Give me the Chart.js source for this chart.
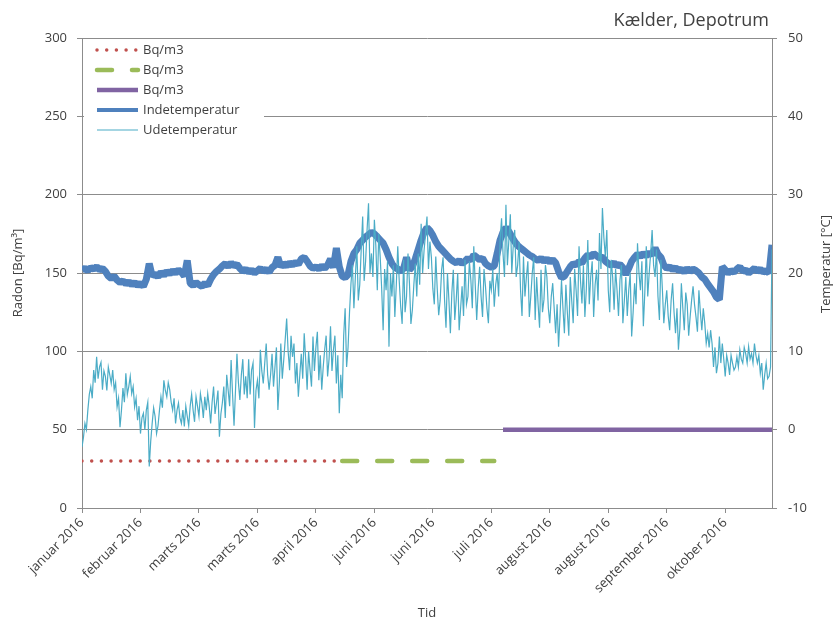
<!DOCTYPE html>
<html>
<head>
<meta charset="utf-8">
<script src="https://cdn.jsdelivr.net/npm/chart.js@4"></script>
<style>
  body { margin: 0; background: #fff; }
  canvas { display: block; }
</style>
</head>
<body>
<canvas id="chart" width="834" height="624"></canvas>
<script>
const TICK_LABELS = [
  'januar 2016', 'februar 2016', 'marts 2016', 'marts 2016', 'april 2016', 'juni 2016',
  'juni 2016', 'juli 2016', 'august 2016', 'august 2016', 'september 2016', 'oktober 2016'
];
const TICK_STEP = 20;
const LAST_INDEX = 236;

// radon measurements, [index, Bq/m3]
const radonDotted = [[0, 30], [88, 30]];
const radonDashed = [[89, 30], [141, 30]];
const radonSolid = [[144, 50], [236, 50]];

// indoor temperature, °C, one value per index
const indeTemp = [
  20.4, 20.6, 20.3, 20.7, 20.5, 20.8, 20.4, 20.6, 20.2, 19.6,
  19.3, 19.6, 19.1, 18.8, 19.0, 18.6, 18.9, 18.5, 18.8, 18.4,
  18.7, 18.3, 19.2, 21.2, 19.6, 19.9, 19.5, 20.1, 19.7, 20.2,
  19.9, 20.3, 20.0, 20.4, 20.1, 19.6, 21.6, 18.7, 18.4, 18.8,
  18.5, 18.3, 18.7, 18.4, 19.2, 19.8, 20.2, 20.5, 20.9, 21.2,
  20.8, 21.3, 20.9, 21.1, 20.6, 20.2, 20.5, 20.1, 20.4, 20.0,
  20.3, 20.6, 20.2, 20.5, 20.1, 20.7, 21.0, 22.0, 20.8, 21.2,
  20.9, 21.3, 21.0, 21.4, 21.1, 21.8, 22.0, 21.5, 20.9, 20.6,
  20.8, 20.5, 20.9, 20.6, 21.0, 21.8, 20.7, 23.2, 20.8, 19.6,
  19.4, 19.8, 21.5, 22.5, 23.0, 23.8, 24.2, 24.6, 24.9, 25.2,
  25.0, 24.6, 24.2, 23.8, 23.0, 22.0, 21.2, 20.7, 20.5, 20.2,
  20.6, 22.0, 20.4, 20.8, 21.8, 23.0, 24.2, 25.2, 25.8, 25.4,
  24.8, 24.0, 23.4, 23.0, 22.6, 22.2, 21.8, 21.5, 21.3, 21.6,
  21.2, 21.5, 21.9, 21.6, 22.3, 22.0, 21.7, 21.9, 21.2, 20.9,
  20.7, 20.9, 22.5, 24.2, 25.2, 25.8, 25.3, 24.6, 24.0, 23.5,
  23.2, 22.9, 22.6, 22.3, 22.1, 21.8, 21.6, 21.9, 21.5, 21.8,
  21.4, 21.7, 21.3, 20.2, 19.4, 19.6, 20.2, 20.8, 21.2, 21.0,
  21.5, 21.3, 21.9, 22.3, 22.0, 22.5, 22.2, 21.9, 22.1, 21.5,
  21.2, 21.0, 21.3, 20.9, 21.1, 20.7, 19.8, 20.6, 21.5, 22.0,
  22.4, 22.1, 22.5, 22.2, 22.6, 22.3, 23.2, 22.4, 22.0, 21.0,
  20.6, 20.8, 20.4, 20.7, 20.3, 20.5, 20.1, 20.6, 20.2, 20.5,
  20.3, 20.0, 19.5, 19.2, 18.6, 18.1, 17.6, 16.9, 16.6, 20.8,
  20.4, 20.0, 20.3, 20.1, 20.5, 20.8, 20.2, 20.4, 20.0, 20.3,
  20.6, 20.2, 20.5, 20.1, 20.3, 20.0, 23.6
];

// outdoor temperature, °C, two values per index (index step 0.5)
const UDE_STEP = 0.5;
const udeTemp = [
  -2.2, -1.0, 0.8, 0.0, 2.5, 4.5, 5.5, 4.0, 7.6, 6.0,
  9.3, 6.5, 8.0, 8.6, 5.1, 7.5, 6.8, 5.0, 8.0, 7.0,
  5.9, 7.6, 5.1, 6.0, 2.9, 4.0, 0.3, 2.5, 5.3, 3.5,
  7.2, 4.5, 5.5, 6.8, 4.6, 5.5, 2.9, 4.0, 1.2, 3.0,
  -0.5, 1.5, 2.1, 0.0, 2.5, 3.5, -4.7, -1.5, 0.8, 2.8,
  1.7, -0.5, 0.5, 2.5, 4.2, 2.8, 6.3, 5.0, 4.2, 6.0,
  5.1, 3.5, 2.5, 4.0, 0.8, 2.5, 3.4, 1.5, 0.8, 2.5,
  0.4, 3.0, 1.7, 0.5, 3.0, 4.5, 2.5, 1.0, 4.2, 3.0,
  1.7, 4.6, 3.4, 1.5, 4.2, 2.5, 4.6, 3.0, 0.8, 3.5,
  5.5, 2.0, 3.4, 5.0, -0.9, 2.0, 3.4, 5.5, 1.5, 7.0,
  5.0, 3.0, 8.9, 4.5, 0.5, 5.0, 9.7, 6.0, 3.8, 7.0,
  9.0, 4.5, 6.8, 4.0, 9.0, 4.5, 7.6, 8.5, 0.2, 5.0,
  6.3, 4.0, 10.2, 7.5, 5.9, 8.5, 11.0, 7.0, 5.1, 7.0,
  9.7, 5.5, 8.0, 10.5, 2.5, 6.0, 11.0, 6.5, 8.9, 11.5,
  14.2, 10.0, 7.6, 12.0, 9.3, 11.0, 5.9, 8.5, 4.2, 7.0,
  9.7, 6.5, 12.3, 9.0, 5.1, 10.0, 7.6, 5.5, 11.9, 7.5,
  10.5, 12.5, 6.3, 9.5, 5.1, 8.0, 10.2, 12.0, 6.8, 9.0,
  13.2, 7.5, 10.2, 12.0, 5.9, 9.5, 2.1, 7.0, 4.0, 12.0,
  15.5, 8.0, 10.5, 15.0, 18.7, 21.0, 15.5, 19.5, 23.4, 16.5,
  18.5, 23.0, 27.2, 19.0, 21.5, 25.5, 28.9, 20.0, 22.5, 19.5,
  26.8, 23.5, 17.8, 25.0, 22.0, 18.0, 12.7, 20.5, 17.8, 21.5,
  10.6, 20.0, 17.0, 21.0, 14.4, 18.5, 23.4, 19.0, 15.7, 13.5,
  21.7, 15.0, 17.0, 22.5, 18.7, 13.5, 15.3, 18.5, 21.2, 17.0,
  22.5, 18.5, 26.3, 20.0, 22.9, 25.0, 27.2, 20.5, 24.0, 22.0,
  18.0, 16.0, 22.1, 18.0, 14.6, 16.5, 20.4, 22.0, 16.6, 13.0,
  20.0, 16.5, 12.3, 17.5, 20.4, 14.0, 16.6, 20.0, 12.7, 15.5,
  18.3, 14.5, 21.7, 16.0, 17.0, 21.5, 19.1, 15.5, 23.4, 18.5,
  14.0, 18.0, 20.8, 17.0, 14.4, 20.5, 18.3, 15.5, 13.6, 19.0,
  17.8, 20.5, 15.7, 18.5, 20.0, 17.0, 24.2, 27.0, 22.5, 19.5,
  28.7, 21.0, 24.2, 27.5, 20.0, 23.5, 25.5, 19.5, 21.0, 24.0,
  17.8, 14.5, 22.1, 17.0, 19.5, 21.5, 14.4, 17.0, 20.0, 22.0,
  14.0, 19.5, 16.0, 13.0, 20.4, 15.0, 16.6, 21.0, 19.5, 15.5,
  13.6, 17.0, 18.7, 15.5, 12.3, 16.0, 10.6, 14.5, 19.1, 15.5,
  12.3, 18.5, 15.0, 12.0, 19.5, 16.5, 13.6, 20.5, 17.8, 14.5,
  23.4, 19.0, 16.1, 21.0, 14.4, 18.0, 24.2, 16.0, 19.5, 21.5,
  14.4, 18.5, 20.4, 16.5, 25.1, 20.5, 28.3, 24.5, 22.1, 25.5,
  17.8, 15.0, 21.7, 19.5, 15.3, 20.5, 17.8, 14.5, 19.1, 21.0,
  13.6, 16.5, 19.5, 14.5, 17.8, 20.0, 11.9, 15.0, 18.7, 16.0,
  23.8, 20.0, 17.8, 21.5, 13.2, 17.5, 23.4, 17.0, 20.0, 22.5,
  25.5, 21.0, 19.5, 23.0, 17.0, 14.0, 21.7, 18.0, 13.6, 16.0,
  17.8, 14.5, 12.7, 16.5, 18.7, 15.0, 12.3, 15.5, 10.2, 13.0,
  18.7, 15.5, 12.7, 17.5, 16.0, 12.0, 14.4, 16.5, 18.3, 16.0,
  14.4, 12.5, 17.8, 15.0, 12.7, 15.5, 13.6, 11.0, 12.3, 10.5,
  12.7, 11.0, 8.0, 10.5, 7.2, 8.5, 11.9, 8.5, 11.0, 9.0,
  6.8, 9.5, 8.5, 7.0, 9.5, 8.5, 7.6, 8.0, 9.3, 8.0,
  10.2, 9.0, 8.5, 10.5, 9.7, 8.5, 10.6, 9.0, 9.7, 8.5,
  11.0, 9.5, 8.5, 9.5, 7.2, 8.5, 5.1, 7.0, 8.5, 6.5,
  6.8, 8.0, 23.0
];

const GRID = '#8c8c8c';
const TEXT = '#404040';
const FONT = "'Open Sans', 'DejaVu Sans', sans-serif";

Chart.defaults.font.family = FONT;
Chart.defaults.font.size = 13;
Chart.defaults.color = TEXT;

const legendItems = [
  { label: 'Bq/m3', color: '#c0504d', width: 3.5, dash: [0, 9.7], cap: 'round' },
  { label: 'Bq/m3', color: '#9bbb59', width: 4.5, dash: [15, 20], cap: 'round' },
  { label: 'Bq/m3', color: '#8064a2', width: 4.5, dash: [], cap: 'butt' },
  { label: 'Indetemperatur', color: '#4f81bd', width: 4, dash: [], cap: 'butt' },
  { label: 'Udetemperatur', color: '#4bacc6', width: 1.2, dash: [], cap: 'butt' }
];

function toPoints(values, step) {
  return values.map((v, i) => ({ x: i * step, y: v }));
}

function pairsToPoints(pairs) {
  return pairs.map(p => ({ x: p[0], y: p[1] }));
}

// title, secondary axis title and the legend box inside the plot
const extras = {
  id: 'extras',
  afterDraw(chart) {
    const ctx = chart.ctx;
    ctx.save();
    ctx.fillStyle = TEXT;
    ctx.font = '18px ' + FONT;
    ctx.textAlign = 'right';
    ctx.textBaseline = 'middle';
    ctx.fillText('Kælder, Depotrum', 769, 21);

    ctx.font = '13px ' + FONT;
    ctx.translate(826, 264);
    ctx.rotate(-Math.PI / 2);
    ctx.textAlign = 'center';
    ctx.fillText('Temperatur [°C]', 0, 0);
    ctx.restore();

    ctx.save();
    ctx.fillStyle = '#fff';
    ctx.fillRect(84, 40, 180, 100);
    legendItems.forEach((item, k) => {
      const y = 50 + k * 20;
      ctx.beginPath();
      ctx.strokeStyle = item.color;
      ctx.lineWidth = item.width;
      ctx.lineCap = item.cap;
      ctx.setLineDash(item.dash);
      ctx.moveTo(97, y);
      ctx.lineTo(138, y);
      ctx.stroke();
      ctx.setLineDash([]);
      ctx.fillStyle = TEXT;
      ctx.font = '13px ' + FONT;
      ctx.textAlign = 'left';
      ctx.textBaseline = 'middle';
      ctx.fillText(item.label, 143, y);
    });
    ctx.restore();
  }
};

new Chart(document.getElementById('chart'), {
  type: 'line',
  data: {
    datasets: [
      {
        label: 'Udetemperatur', data: toPoints(udeTemp, UDE_STEP), yAxisID: 'y2', order: 1,
        borderColor: '#4bacc6', borderWidth: 1.2, pointRadius: 0, tension: 0
      },
      {
        label: 'Indetemperatur', data: toPoints(indeTemp, 1), yAxisID: 'y2', order: 2,
        borderColor: '#4f81bd', borderWidth: 7, borderJoinStyle: 'bevel', pointRadius: 0, tension: 0
      },
      {
        label: 'Bq/m3', data: pairsToPoints(radonDotted), yAxisID: 'y', order: 3,
        borderColor: '#c0504d', borderWidth: 3.5, borderDash: [0, 9.7], borderCapStyle: 'round', pointRadius: 0
      },
      {
        label: 'Bq/m3', data: pairsToPoints(radonDashed), yAxisID: 'y', order: 3,
        borderColor: '#9bbb59', borderWidth: 4.5, borderDash: [15, 20], borderCapStyle: 'round', pointRadius: 0
      },
      {
        label: 'Bq/m3', data: pairsToPoints(radonSolid), yAxisID: 'y', order: 3,
        borderColor: '#8064a2', borderWidth: 4.5, pointRadius: 0
      }
    ]
  },
  options: {
    responsive: false,
    animation: false,
    layout: { padding: { top: 38, left: 0, right: 0, bottom: 0 } },
    plugins: {
      legend: { display: false },
      tooltip: { enabled: false }
    },
    scales: {
      x: {
        type: 'linear',
        min: 0,
        max: LAST_INDEX,
        afterFit(scale) { scale.height = 116; },
        afterBuildTicks(scale) {
          scale.ticks = TICK_LABELS.map((_, k) => ({ value: k * TICK_STEP }));
        },
        ticks: {
          autoSkip: false,
          minRotation: 45,
          maxRotation: 45,
          padding: 2,
          callback: (value, index) => TICK_LABELS[index]
        },
        grid: { drawOnChartArea: false, tickLength: 5, color: GRID },
        border: { color: GRID },
        title: { display: true, text: 'Tid', padding: { top: 0, bottom: 3 } }
      },
      y: {
        position: 'left',
        min: 0,
        max: 300,
        afterFit(scale) { scale.width = 82; },
        ticks: { stepSize: 50, padding: 10 },
        grid: { color: GRID, tickLength: 5 },
        border: { color: GRID },
        title: { display: true, text: 'Radon [Bq/m³]', padding: { top: 10, bottom: 0 } }
      },
      y2: {
        position: 'right',
        min: -10,
        max: 50,
        afterFit(scale) { scale.width = 62; },
        ticks: { stepSize: 10, padding: 11 },
        grid: { drawOnChartArea: false, color: GRID, tickLength: 5 },
        border: { color: GRID }
      }
    }
  },
  plugins: [extras]
});
</script>
</body>
</html>
